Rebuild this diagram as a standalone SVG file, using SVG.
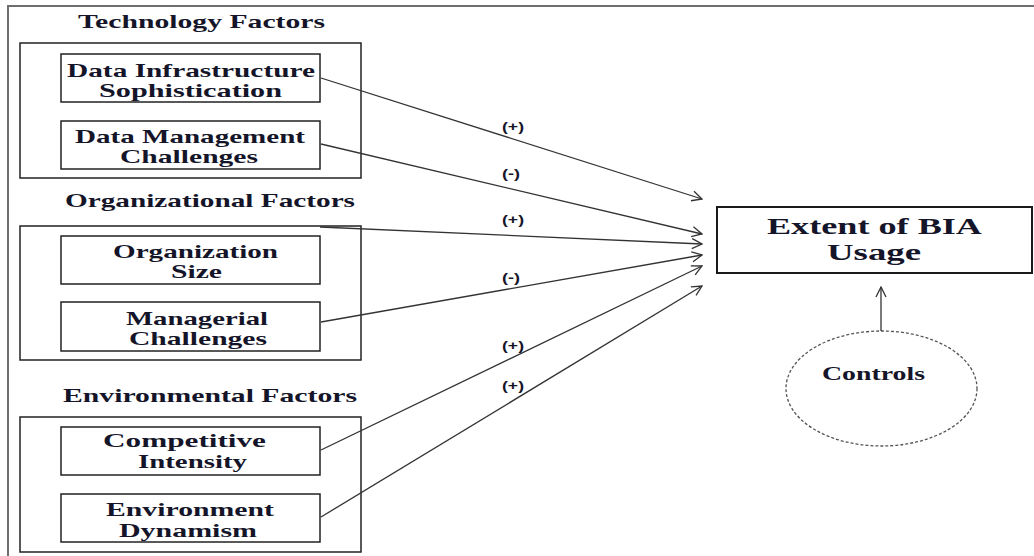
<svg xmlns="http://www.w3.org/2000/svg" width="1034" height="556" viewBox="0 0 1034 556">
<style>
  .bg { fill: #ffffff; }
  .frame { fill: none; stroke: #6e6e6e; stroke-width: 2; }
  .group { fill: none; stroke: #222222; stroke-width: 1.5; }
  .box { fill: #ffffff; stroke: #222222; stroke-width: 1.5; }
  .main { fill: #ffffff; stroke: #1a1a1a; stroke-width: 2; }
  .ctrl { fill: #ffffff; stroke: #555555; stroke-width: 1.3; stroke-dasharray: 3 2; }
  .t { font-family: "Liberation Serif", "Times New Roman", serif; font-weight: bold; fill: #15152a; }
  .s19 { font-size: 19px; }
  .s24 { font-size: 24px; }
  .s18 { font-size: 18px; }
  .lbl { font-family: "Liberation Sans", Arial, sans-serif; font-weight: bold; font-size: 13px; fill: #15152a; }
  .conn { fill: none; stroke: #333333; stroke-width: 1.3; }
</style>
<defs>
  <marker id="open" viewBox="0 0 12 12" refX="11" refY="6" markerWidth="12" markerHeight="12" markerUnits="userSpaceOnUse" orient="auto">
    <path d="M1,1 L11,6 L1,11" fill="none" stroke="#333333" stroke-width="1.3"/>
  </marker>
</defs>
<rect class="bg" x="0" y="0" width="1034" height="556"/>
<path class="frame" d="M8,556 V6 H1034"/>

<g id="technology-factors">
  <rect class="group" x="20" y="43" width="341" height="135"/>
  <text class="t s19" x="78" y="28" textLength="247" lengthAdjust="spacingAndGlyphs">Technology Factors</text>
</g>
<g id="data-infrastructure">
  <rect class="box" x="61" y="54" width="259" height="48"/>
  <text class="t s19" x="67" y="77" textLength="248" lengthAdjust="spacingAndGlyphs">Data Infrastructure</text>
  <text class="t s19" x="99" y="97" textLength="183" lengthAdjust="spacingAndGlyphs">Sophistication</text>
</g>
<g id="data-management">
  <rect class="box" x="61" y="121" width="259" height="48"/>
  <text class="t s19" x="75" y="143" textLength="230" lengthAdjust="spacingAndGlyphs">Data Management</text>
  <text class="t s19" x="120" y="163" textLength="138" lengthAdjust="spacingAndGlyphs">Challenges</text>
</g>

<g id="organizational-factors">
  <rect class="group" x="20" y="226" width="341" height="134"/>
  <text class="t s19" x="65" y="207" textLength="290" lengthAdjust="spacingAndGlyphs">Organizational Factors</text>
</g>
<g id="organization-size">
  <rect class="box" x="61" y="236" width="259" height="48"/>
  <text class="t s19" x="113" y="258" textLength="165" lengthAdjust="spacingAndGlyphs">Organization</text>
  <text class="t s19" x="171" y="278" textLength="51" lengthAdjust="spacingAndGlyphs">Size</text>
</g>
<g id="managerial-challenges">
  <rect class="box" x="61" y="302" width="259" height="49"/>
  <text class="t s19" x="126" y="325" textLength="142" lengthAdjust="spacingAndGlyphs">Managerial</text>
  <text class="t s19" x="129" y="345" textLength="138" lengthAdjust="spacingAndGlyphs">Challenges</text>
</g>

<g id="environmental-factors">
  <rect class="group" x="20" y="417" width="341" height="135"/>
  <text class="t s19" x="63" y="402" textLength="294" lengthAdjust="spacingAndGlyphs">Environmental Factors</text>
</g>
<g id="competitive-intensity">
  <rect class="box" x="61" y="427" width="259" height="48"/>
  <text class="t s18" x="103" y="447" textLength="163" lengthAdjust="spacingAndGlyphs">Competitive</text>
  <text class="t s18" x="138" y="468" textLength="109" lengthAdjust="spacingAndGlyphs">Intensity</text>
</g>
<g id="environment-dynamism">
  <rect class="box" x="61" y="494" width="259" height="48"/>
  <text class="t s18" x="106" y="516" textLength="168" lengthAdjust="spacingAndGlyphs">Environment</text>
  <text class="t s18" x="119" y="537" textLength="138" lengthAdjust="spacingAndGlyphs">Dynamism</text>
</g>

<g id="extent-of-bia-usage">
  <rect class="main" x="717" y="207" width="315" height="66"/>
  <text class="t s24" x="767" y="234" textLength="215" lengthAdjust="spacingAndGlyphs">Extent of BIA</text>
  <text class="t s24" x="827" y="260" textLength="94" lengthAdjust="spacingAndGlyphs">Usage</text>
</g>
<g id="controls">
  <ellipse class="ctrl" cx="881.5" cy="388.5" rx="95.5" ry="57.5"/>
  <text class="t s18" x="822" y="380" textLength="103" lengthAdjust="spacingAndGlyphs">Controls</text>
</g>

<g id="connectors">
  <line class="conn" x1="321" y1="78" x2="702" y2="199" marker-end="url(#open)"/>
  <line class="conn" x1="321" y1="144" x2="702" y2="234" marker-end="url(#open)"/>
  <line class="conn" x1="320" y1="227" x2="702" y2="244" marker-end="url(#open)"/>
  <line class="conn" x1="321" y1="322" x2="702" y2="255" marker-end="url(#open)"/>
  <line class="conn" x1="321" y1="450" x2="702" y2="266" marker-end="url(#open)"/>
  <line class="conn" x1="321" y1="517" x2="702" y2="286" marker-end="url(#open)"/>
  <line class="conn" x1="881" y1="331" x2="881" y2="287" marker-end="url(#open)"/>
  <text class="lbl" x="502" y="131" textLength="22" lengthAdjust="spacingAndGlyphs">(+)</text>
  <text class="lbl" x="502" y="178" textLength="18" lengthAdjust="spacingAndGlyphs">(-)</text>
  <text class="lbl" x="502" y="224" textLength="22" lengthAdjust="spacingAndGlyphs">(+)</text>
  <text class="lbl" x="502" y="282" textLength="18" lengthAdjust="spacingAndGlyphs">(-)</text>
  <text class="lbl" x="502" y="350" textLength="22" lengthAdjust="spacingAndGlyphs">(+)</text>
  <text class="lbl" x="502" y="390" textLength="22" lengthAdjust="spacingAndGlyphs">(+)</text>
</g>
</svg>
